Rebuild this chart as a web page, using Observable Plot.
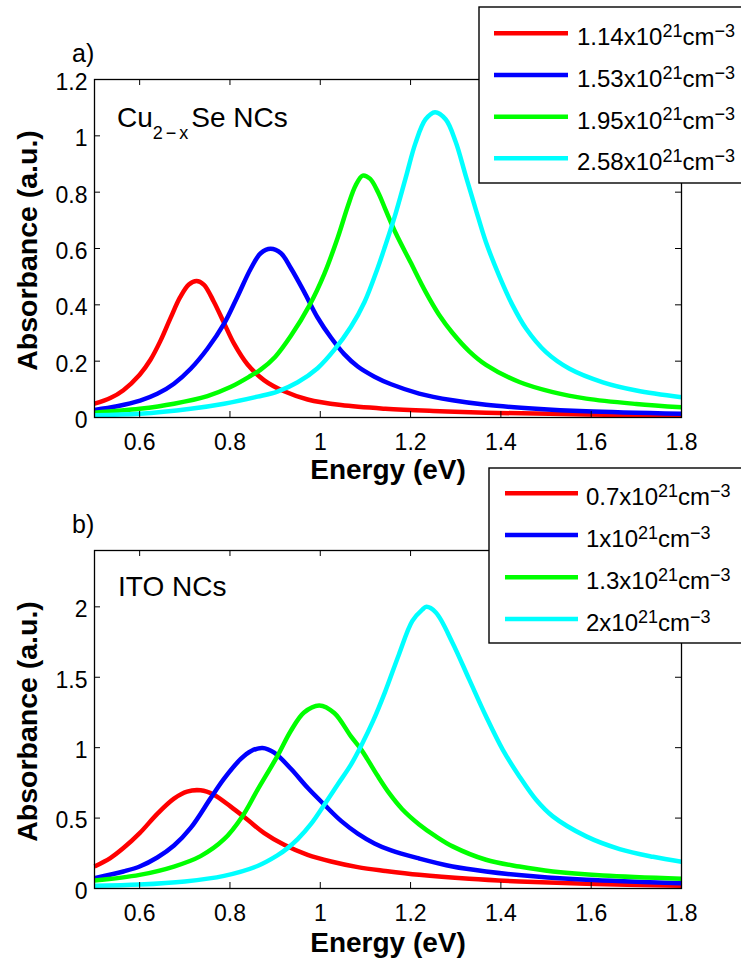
<!DOCTYPE html>
<html><head><meta charset="utf-8">
<script src="https://cdn.jsdelivr.net/npm/d3@7"></script>
<script src="https://cdn.jsdelivr.net/npm/@observablehq/plot@0.6"></script>
<style>
html,body{margin:0;padding:0;background:#fff;}
#wrap{position:relative;width:741px;height:962px;overflow:hidden;font-family:"Liberation Sans",Arial,Helvetica,sans-serif;}
#wrap > svg{display:block;}
#overlay{position:absolute;left:0;top:0;pointer-events:none;}
</style></head><body><div id="wrap"></div>
<script>
// ---- axis ticks ----
const energyTicks = [0.6, 0.8, 1, 1.2, 1.4, 1.6, 1.8];
const absTicksA = [0, 0.2, 0.4, 0.6, 0.8, 1, 1.2];
const absTicksB = [0, 0.5, 1, 1.5, 2];
const energyDomain = [0.5, 1.8];
const absDomainA = [0, 1.2];
const absDomainB = [0, 2.4];

// ---- series / legend ----
const seriesColors = ["#ff0000", "#0000ff", "#00ff00", "#00ffff"];
const densitiesA = ["1.14", "1.53", "1.95", "2.58"];
const densitiesB = ["0.7", "1", "1.3", "2"];

// ---- panel a) Cu2-xSe NCs : [energy eV, absorbance] ----
const cuSeRed = [[0.5,0.049],[0.535,0.069],[0.564,0.097],[0.6,0.152],[0.624,0.205],[0.646,0.272],[0.668,0.352],[0.69,0.428],[0.709,0.472],[0.726,0.485],[0.742,0.472],[0.764,0.412],[0.787,0.335],[0.809,0.262],[0.839,0.188],[0.876,0.132],[0.92,0.093],[0.972,0.064],[1.046,0.044],[1.144,0.031],[1.25,0.023],[1.367,0.017],[1.589,0.011],[1.8,0.007]];
const cuSeBlue = [[0.5,0.027],[0.55,0.04],[0.601,0.06],[0.639,0.084],[0.676,0.12],[0.713,0.173],[0.75,0.244],[0.787,0.333],[0.816,0.427],[0.846,0.528],[0.868,0.583],[0.89,0.599],[0.913,0.583],[0.935,0.53],[0.964,0.447],[0.994,0.355],[1.024,0.283],[1.053,0.225],[1.083,0.181],[1.12,0.145],[1.157,0.118],[1.219,0.085],[1.293,0.061],[1.367,0.045],[1.478,0.031],[1.589,0.022],[1.8,0.013]];
const cuSeGreen = [[0.5,0.017],[0.6,0.031],[0.676,0.049],[0.75,0.076],[0.801,0.108],[0.846,0.148],[0.868,0.17],[0.9,0.215],[0.935,0.29],[0.976,0.398],[1.009,0.51],[1.039,0.64],[1.061,0.75],[1.078,0.823],[1.094,0.859],[1.11,0.848],[1.128,0.8],[1.144,0.74],[1.167,0.655],[1.2,0.551],[1.233,0.447],[1.263,0.365],[1.293,0.3],[1.33,0.235],[1.367,0.187],[1.441,0.126],[1.515,0.09],[1.589,0.067],[1.7,0.048],[1.8,0.036]];
const cuSeCyan = [[0.5,0.008],[0.6,0.013],[0.713,0.031],[0.787,0.049],[0.861,0.074],[0.905,0.092],[0.95,0.125],[0.994,0.175],[1.031,0.24],[1.068,0.322],[1.098,0.41],[1.127,0.53],[1.144,0.61],[1.167,0.725],[1.189,0.85],[1.211,0.975],[1.233,1.058],[1.254,1.084],[1.278,1.058],[1.3,0.978],[1.322,0.859],[1.344,0.741],[1.367,0.622],[1.396,0.504],[1.426,0.398],[1.456,0.315],[1.5,0.232],[1.552,0.173],[1.626,0.125],[1.7,0.096],[1.8,0.072]];

// ---- panel b) ITO NCs : [energy eV, absorbance] ----
const itoRed = [[0.5,0.156],[0.535,0.216],[0.564,0.287],[0.6,0.393],[0.639,0.53],[0.676,0.638],[0.705,0.688],[0.735,0.697],[0.764,0.666],[0.801,0.583],[0.839,0.488],[0.876,0.393],[0.92,0.31],[0.972,0.239],[1.024,0.192],[1.083,0.152],[1.144,0.125],[1.219,0.097],[1.33,0.069],[1.441,0.05],[1.589,0.033],[1.8,0.02]];
const itoBlue = [[0.5,0.073],[0.564,0.121],[0.6,0.156],[0.639,0.22],[0.676,0.305],[0.713,0.43],[0.757,0.64],[0.787,0.78],[0.824,0.92],[0.846,0.975],[0.872,0.998],[0.898,0.965],[0.935,0.85],[0.972,0.715],[1.009,0.595],[1.046,0.48],[1.083,0.39],[1.12,0.32],[1.157,0.27],[1.219,0.213],[1.293,0.156],[1.367,0.121],[1.478,0.085],[1.589,0.062],[1.8,0.038]];
const itoGreen = [[0.5,0.057],[0.6,0.097],[0.676,0.156],[0.735,0.23],[0.787,0.35],[0.827,0.51],[0.861,0.7],[0.905,0.94],[0.935,1.12],[0.964,1.25],[0.998,1.3],[1.031,1.246],[1.068,1.08],[1.09,0.99],[1.105,0.915],[1.127,0.8],[1.153,0.675],[1.181,0.565],[1.219,0.455],[1.256,0.37],[1.293,0.299],[1.367,0.204],[1.441,0.156],[1.515,0.121],[1.626,0.092],[1.8,0.069]];
const itoCyan = [[0.5,0.019],[0.6,0.028],[0.7,0.05],[0.787,0.09],[0.861,0.16],[0.905,0.235],[0.927,0.285],[0.95,0.35],[0.98,0.46],[1.009,0.595],[1.039,0.74],[1.068,0.88],[1.09,1.01],[1.117,1.19],[1.144,1.4],[1.174,1.66],[1.204,1.9],[1.226,1.98],[1.235,2.0],[1.256,1.96],[1.293,1.744],[1.33,1.483],[1.367,1.223],[1.404,0.986],[1.441,0.796],[1.478,0.63],[1.515,0.512],[1.589,0.37],[1.663,0.28],[1.737,0.225],[1.8,0.19]];

const FONT = "Liberation Sans, Arial, Helvetica, sans-serif";
const fmt = d3.format("~g");

function panel({series, yDomain, yTicks, marginTop, marginBottom, xLabelDy}) {
  const W = 741, H = 481, mL = 94, mR = 60;
  const fw = W - mL - mR, fh = H - marginTop - marginBottom;
  const marks = [];
  series.forEach((s, i) => marks.push(Plot.line(s, {
    x: d => d[0], y: d => d[1], stroke: seriesColors[i], strokeWidth: 4.5,
    curve: "catmull-rom", strokeLinecap: "butt"
  })));
  // inward ticks on all four sides (MATLAB box style)
  marks.push(Plot.ruleX(energyTicks, {x: d => d, insetTop: fh - 6, stroke: "#000", strokeWidth: 1}));
  marks.push(Plot.ruleX(energyTicks, {x: d => d, insetBottom: fh - 6, stroke: "#000", strokeWidth: 1}));
  marks.push(Plot.ruleY(yTicks, {y: d => d, insetRight: fw - 6, stroke: "#000", strokeWidth: 1}));
  marks.push(Plot.ruleY(yTicks, {y: d => d, insetLeft: fw - 6, stroke: "#000", strokeWidth: 1}));
  marks.push(Plot.frame({stroke: "#000", strokeWidth: 1.3}));
  marks.push(Plot.axisX({ticks: energyTicks, tickSize: 0, tickPadding: 16, tickFormat: fmt, fontSize: 23, label: null}));
  marks.push(Plot.axisY({ticks: yTicks, tickSize: 0, tickPadding: 7, tickFormat: fmt, fontSize: 23, dy: 3, label: null}));
  marks.push(Plot.text(["Energy (eV)"], {frameAnchor: "bottom", lineAnchor: "middle", textAnchor: "middle", dy: xLabelDy, fontSize: 28, fontWeight: "bold", fill: "#000"}));
  marks.push(Plot.text(["Absorbance (a.u.)"], {frameAnchor: "left", rotate: -90, textAnchor: "middle", lineAnchor: "middle", dx: -67, dy: 2, fontSize: 28.5, fontWeight: "bold", fill: "#000"}));
  return Plot.plot({
    width: W, height: H, marginLeft: mL, marginRight: mR, marginTop, marginBottom,
    x: {domain: energyDomain}, y: {domain: yDomain},
    style: {fontFamily: FONT, fontSize: "23px", color: "#000", background: "#fff", overflow: "visible"},
    marks
  });
}

const wrap = document.getElementById("wrap");
wrap.appendChild(panel({series: [cuSeRed, cuSeBlue, cuSeGreen, cuSeCyan], yDomain: absDomainA, yTicks: absTicksA, marginTop: 79, marginBottom: 64, xLabelDy: 53}));
wrap.appendChild(panel({series: [itoRed, itoBlue, itoGreen, itoCyan], yDomain: absDomainB, yTicks: absTicksB, marginTop: 69, marginBottom: 74, xLabelDy: 55}));

// ---- overlay: panel letters, annotations, legends ----
const ov = d3.select(wrap).append("svg").attr("id", "overlay")
  .attr("width", 741).attr("height", 962).style("font-family", FONT);

ov.append("text").attr("x", 72).attr("y", 62).attr("font-size", 25).text("a)");
ov.append("text").attr("x", 72).attr("y", 533).attr("font-size", 25).text("b)");

const cu = ov.append("text").attr("x", 117).attr("y", 127).attr("font-size", 28);
cu.append("tspan").text("Cu");
cu.append("tspan").attr("dy", 12).attr("font-size", 18).attr("letter-spacing", 3).text("2\u2212x");
cu.append("tspan").attr("dy", -12).text("Se NCs");

ov.append("text").attr("x", 118).attr("y", 596).attr("font-size", 28).text("ITO NCs");

function legend({x, top, bottom, rows, lineX0, lineX1, textX, labels}) {
  const g = ov.append("g");
  g.append("rect").attr("x", x).attr("y", top).attr("width", 320).attr("height", bottom - top)
    .attr("fill", "#fff").attr("stroke", "#000").attr("stroke-width", 1.4);
  labels.forEach((lab, i) => {
    g.append("line").attr("x1", lineX0).attr("x2", lineX1).attr("y1", rows[i]).attr("y2", rows[i])
      .attr("stroke", seriesColors[i]).attr("stroke-width", 4.5);
    const t = g.append("text").attr("x", textX).attr("y", rows[i] + 12).attr("font-size", 24);
    t.append("tspan").text(lab + "x10");
    t.append("tspan").attr("dy", -8.5).attr("font-size", 18).text("21");
    t.append("tspan").attr("dy", 8.5).text("cm");
    t.append("tspan").attr("dy", -8.5).attr("font-size", 18).text("\u22123");
  });
}
legend({x: 479, top: 7, bottom: 183, rows: [33.3, 75, 116.7, 158.3], lineX0: 494, lineX1: 568, textX: 577, labels: densitiesA});
legend({x: 489, top: 468, bottom: 643, rows: [493.3, 535, 577.3, 619], lineX0: 505, lineX1: 578, textX: 586, labels: densitiesB});
</script>
</body></html>
